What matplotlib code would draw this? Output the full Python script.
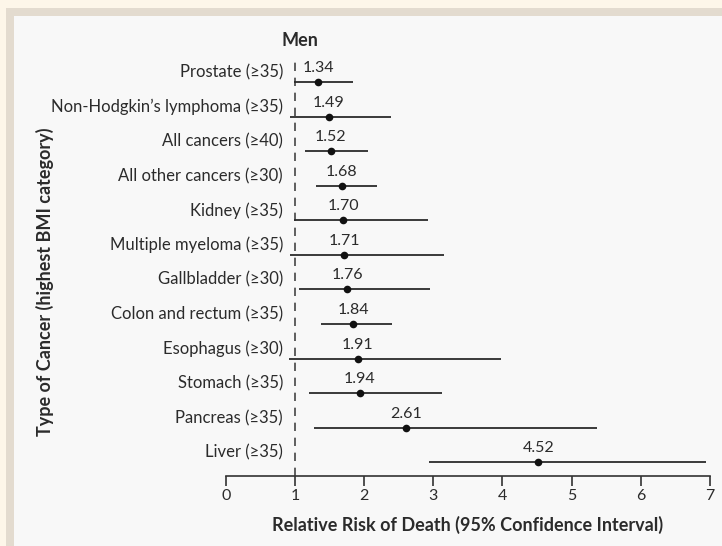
import matplotlib
matplotlib.use("Agg")
import matplotlib.pyplot as plt
from matplotlib.patches import Rectangle

categories = ["Prostate (≥35)", "Non-Hodgkin’s lymphoma (≥35)", "All cancers (≥40)",
              "All other cancers (≥30)", "Kidney (≥35)", "Multiple myeloma (≥35)",
              "Gallbladder (≥30)", "Colon and rectum (≥35)", "Esophagus (≥30)",
              "Stomach (≥35)", "Pancreas (≥35)", "Liver (≥35)"]
rr = [1.34, 1.49, 1.52, 1.68, 1.70, 1.71, 1.76, 1.84, 1.91, 1.94, 2.61, 4.52]
ci_low = [0.99, 0.93, 1.14, 1.30, 0.99, 0.93, 1.06, 1.38, 0.92, 1.20, 1.27, 2.94]
ci_high = [1.84, 2.39, 2.05, 2.18, 2.92, 3.15, 2.95, 2.41, 3.98, 3.13, 5.36, 6.94]
xticks = [0, 1, 2, 3, 4, 5, 6, 7]

plt.rcParams['font.family'] = ['Lato', 'DejaVu Sans']
W, H = 722, 546
fig = plt.figure(figsize=(W / 100, H / 100), dpi=100)
fig.patch.set_facecolor('#fdf6e9')
fig.patches.append(Rectangle((6 / W, 0), 1, 1 - 8 / H, transform=fig.transFigure,
                             facecolor='#e3dbcf', edgecolor='none', zorder=-10))
fig.patches.append(Rectangle((14 / W, 0), 1, 1 - 16 / H, transform=fig.transFigure,
                             facecolor='#f8f8f8', edgecolor='none', zorder=-9))

left, right = 225.7, 710.0
top, bottom = 62.0, 476.0
ax = fig.add_axes([left / W, 1 - bottom / H, (right - left) / W, (bottom - top) / H])
ax.set_facecolor('none')

n = len(categories)
ys = list(range(n))
ink = '#2b2b2b'
for y, name, r, lo, hi in zip(ys, categories, rr, ci_low, ci_high):
    ax.plot([lo, hi], [y, y], color=ink, lw=1.3, solid_capstyle='butt', zorder=3)
    ax.plot([r], [y], marker='o', ms=5.5, color='#111111', zorder=4,
            markeredgewidth=0)
    ax.annotate(f"{r:.2f}", (r, y), xytext=(0, 5), textcoords='offset points',
                ha='center', va='bottom', fontsize=11.5, color=ink)
    ax.annotate(name, (0.83, y), xytext=(0, 7), textcoords='offset points',
                ha='right', va='center', fontsize=12, color=ink)

ax.axvline(1, color='#444444', lw=1.2, ls=(0, (5, 4)), zorder=2)
ax.set_xlim(0, 7)
ax.set_ylim(n - 1 + 0.4, -0.58)
ax.set_xticks(xticks)
ax.set_xticklabels([str(t) for t in xticks], fontsize=11.5, color=ink)
ax.set_yticks([])
ax.tick_params(axis='x', length=7, width=1.2, color='#333333', pad=2)
for s in ['top', 'right', 'left']:
    ax.spines[s].set_visible(False)
ax.spines['bottom'].set_color('#333333')
ax.spines['bottom'].set_linewidth(1.2)

ax.set_xlabel("Relative Risk of Death (95% Confidence Interval)", fontsize=13,
              fontweight='bold', color=ink, labelpad=10)
fig.text(45 / W, 1 - 282 / H, "Type of Cancer (highest BMI category)", rotation=90,
         ha='center', va='center', fontsize=13, fontweight='bold', color=ink)
fig.text(300 / W, 1 - 41 / H, "Men", ha='center', va='center', fontsize=13,
         fontweight='bold', color=ink)

fig.savefig("out.png", dpi=100, facecolor=fig.get_facecolor())
